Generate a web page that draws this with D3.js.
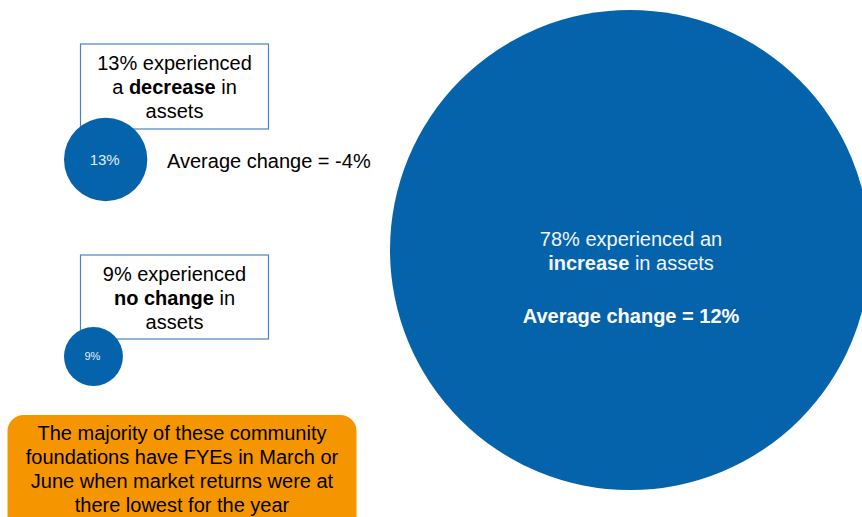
<!DOCTYPE html>
<html>
<head>
<meta charset="utf-8">
<script src="https://cdn.jsdelivr.net/npm/d3@7"></script>
<style>
  html, body { margin: 0; padding: 0; background: #ffffff; }
  svg { display: block; font-family: "Liberation Sans", Arial, Helvetica, sans-serif; }
</style>
</head>
<body>
<svg id="chart" width="862" height="517"></svg>
<script>
// ---- data ----
const categories = ["decrease", "no change", "increase"];
const shares = [13, 9, 78];                 // % of community foundations
const averageChange = [-4, null, 12];       // average change in assets, %
const boxTexts = {
  "decrease": [[["13% experienced", false]], [["a ", false], ["decrease", true], [" in", false]], [["assets", false]]],
  "no change": [[["9% experienced", false]], [["no change", true], [" in", false]], [["assets", false]]]
};
const increaseLines = [[["78% experienced an", false]], [["increase", true], [" in assets", false]]];
const noteLines = [
  "The majority of these community",
  "foundations have FYEs in March or",
  "June when market returns were at",
  "there lowest for the year"
];

// ---- layout / styles ----
const W = 862, H = 517;
const BLUE = "#0563ab";
const svg = d3.select("#chart");

const r = d3.scaleLinear().domain([0, 78]).range([2, 240]);
const labelFont = d3.scaleLinear().domain([9, 13]).range([11, 15]);

const layout = {
  "decrease":  { left: 64,  cy: 159.5, box: { x: 80.5, y: 44,  w: 188, h: 85 } },
  "no change": { left: 64,  cy: 356.5, box: { x: 80.5, y: 255, w: 188, h: 84 } },
  "increase":  { left: 390, cy: 250 }
};

const data = categories.map((c, i) => ({ cat: c, share: shares[i], avg: averageChange[i] }));

function writeLines(g, lines, x, y0, lh, fill, size) {
  lines.forEach((parts, li) => {
    const t = g.append("text")
      .attr("x", x).attr("y", y0 + li * lh)
      .attr("text-anchor", "middle")
      .attr("font-size", size)
      .attr("fill", fill);
    parts.forEach(([s, b]) => {
      t.append("tspan").text(s).attr("font-weight", b ? "bold" : "normal");
    });
  });
}

// callout boxes (drawn under circles)
data.filter(d => boxTexts[d.cat]).forEach(d => {
  const b = layout[d.cat].box;
  svg.append("rect")
    .attr("x", b.x).attr("y", b.y).attr("width", b.w).attr("height", b.h)
    .attr("fill", "#ffffff").attr("stroke", "#4a85c2").attr("stroke-width", 1.2);
  writeLines(svg, boxTexts[d.cat], b.x + b.w / 2, b.y + 25.5, 24, "#000000", 20);
});

// circles
const circles = svg.selectAll("g.bubble").data(data).enter().append("g").attr("class", "bubble");
circles.append("circle")
  .attr("cx", d => layout[d.cat].left + r(d.share))
  .attr("cy", d => layout[d.cat].cy)
  .attr("r", d => r(d.share))
  .attr("fill", BLUE);

// small circle labels
circles.filter(d => d.cat !== "increase").append("text")
  .attr("x", d => layout[d.cat].left + r(d.share) - 1)
  .attr("y", d => layout[d.cat].cy)
  .attr("dy", "0.35em")
  .attr("text-anchor", "middle")
  .attr("font-size", d => labelFont(d.share))
  .attr("fill", "#e4edf7")
  .text(d => d.share + "%");

// average change for decrease
const dec = data[0];
svg.append("text")
  .attr("x", 167).attr("y", 167.5)
  .attr("font-size", 20).attr("fill", "#000000")
  .text("Average change = " + dec.avg + "%");

// increase text inside big circle
const inc = data[2];
const icx = layout.increase.left + r(inc.share);
writeLines(svg, increaseLines, icx + 1, 245.5, 24.5, "#f2f6fb", 20);
svg.append("text")
  .attr("x", icx + 1).attr("y", 323)
  .attr("text-anchor", "middle")
  .attr("font-size", 20).attr("font-weight", "bold").attr("fill", "#ffffff")
  .text("Average change = " + inc.avg + "%");

// orange note
svg.append("rect")
  .attr("x", 7.5).attr("y", 415).attr("width", 349).attr("height", 130)
  .attr("rx", 16).attr("ry", 16)
  .attr("fill", "#f59600");
noteLines.forEach((s, i) => {
  svg.append("text")
    .attr("x", 182).attr("y", 439.5 + i * 24.2)
    .attr("text-anchor", "middle")
    .attr("font-size", 20).attr("fill", "#000000")
    .text(s);
});
</script>
</body>
</html>
